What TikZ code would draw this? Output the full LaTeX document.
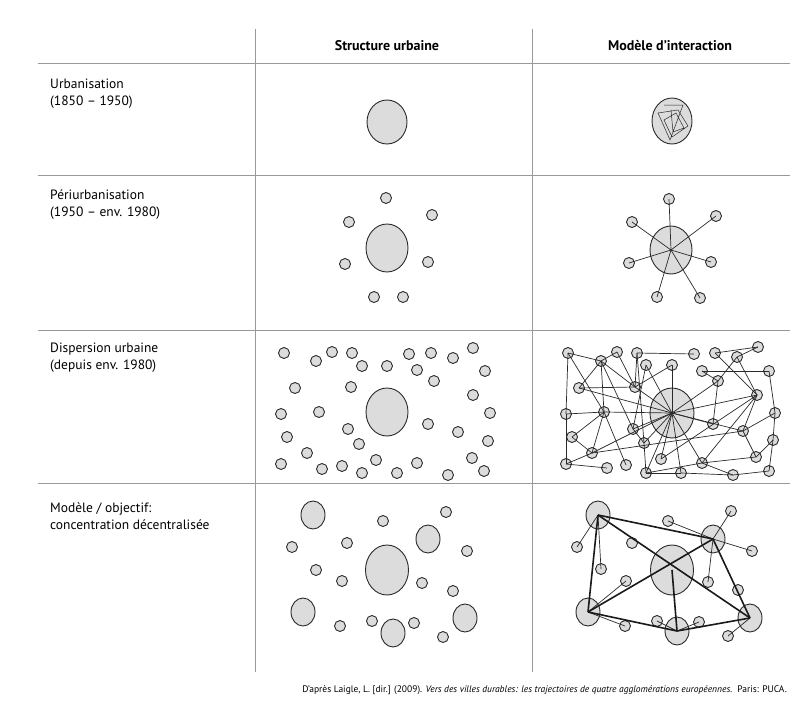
\documentclass[tikz,border=0pt]{standalone}
\usepackage{fontspec}
\setmainfont{PT Sans}
\usetikzlibrary{shapes.geometric}
\definecolor{cfill}{HTML}{DCDCDC}
\definecolor{cline}{HTML}{2A2A2A}
\tikzset{
  sm/.style={circle,draw=cline,fill=cfill,line width=0.9pt,minimum size=11pt,inner sep=0pt},
  md/.style={ellipse,draw=cline,fill=cfill,line width=0.9pt,minimum width=24pt,minimum height=28pt,inner sep=0pt},
  bg/.style={ellipse,draw=cline,fill=cfill,line width=0.9pt,minimum width=42pt,minimum height=48pt,inner sep=0pt},
  grid/.style={draw=gray!80,line width=0.8pt},
  thin/.style={draw=cline,line width=0.7pt},
  thick/.style={draw=black!90,line width=1.6pt},
  lab/.style={align=left,anchor=north west,font=\fontsize{13.5}{17}\selectfont,inner sep=0pt},
  head/.style={font=\bfseries\fontsize{14}{16}\selectfont,inner sep=0pt}
}
\begin{document}
\begin{tikzpicture}[x=1pt,y=-1pt]
\useasboundingbox (0,0) rectangle (800,701);
% grid
\coordinate (v1t) at (255,29); \coordinate (v1b) at (255,672);
\coordinate (v2t) at (532,29); \coordinate (v2b) at (532,672);
\draw[grid] (v1t) -- (v1b); \draw[grid] (v2t) -- (v2b);
\foreach \y/\n in {63/h1,175/h2,330/h3,483/h4}{
  \coordinate (\n l) at (38,\y); \coordinate (\n r) at (790,\y);
  \draw[grid] (\n l) -- (\n r);}
% headers
\node[head] (hs) at (387,46) {Structure urbaine};
\node[head] (hm) at (670,46) {Modèle d'interaction};
\node[lab] (l1) at (50,79) {Urbanisation\\(1850 – 1950)};
\node[lab] (l2) at (50,190) {Périurbanisation\\(1950 – env. 1980)};
\node[lab] (l3) at (50,343) {Dispersion urbaine\\(depuis env. 1980)};
\node[lab] (l4) at (50,503) {Modèle / objectif:\\concentration décentralisée};
\node[anchor=east,inner sep=0pt,font=\fontsize{9.5}{11}\selectfont] (src) at (787,690)
 {D'après Laigle, L. [dir.] (2009). \textit{Vers des villes durables: les trajectoires de quatre agglomérations européennes.}\ \ Paris: PUCA.};
% row 1
\node[bg,minimum width=40pt,minimum height=44pt] (s1c) at (387,122) {};
\node[bg,minimum width=40pt,minimum height=46pt] (m1c) at (672,121) {};
\draw[thin,line width=0.5pt] (664,105) -- (683,105) -- (670,140) -- (658,113) -- (678,110) -- (688,126) -- (672,137) -- (664,120) -- (676,113) -- (684,128) -- (673,132) -- (671,110);
% row 2
\node[bg] (s2c) at (387,248) {};
\foreach \x/\y [count=\i] in {386/198,349/222,432/215,345/264,428/262,374/297,403/297}
  \node[sm] (s2\i) at (\x,\y) {};
\node[bg] (m2c) at (671,250) {};
\foreach \x/\y [count=\i] in {669/199,632/222,716/216,629/263,711/262,657/297,700/298}
  {\node[sm] (m2\i) at (\x,\y) {}; \draw[thin] (m2c.center) -- (m2\i.center);}
% row 3 structure
\node[bg] (s3c) at (387,412) {};
\foreach \x/\y [count=\i] in {284/353,316/361,332/352,352/353,362/366,387/366,409/354,431/353,453/358,473/348,417/370,434/381,485/371,295/388,351/387,473/395,281/414,319/412,490/413,428/424,458/432,348/429,287/437,359/444,488/441,307/453,472/458,281/464,322/469,342/466,376/460,417/463,362/473,397/473,448/475,484/471}
  \node[sm] (s3\i) at (\x,\y) {};
% row 3 interaction
\node[bg,minimum width=44pt,minimum height=50pt] (dc) at (672,413) {};
\foreach \x/\y [count=\i] in {568/353,601/361,617/352,637/353,694/354,715/353,758/347,737/357,646/365,672/365,702/371,769/371,579/388,635/387,718/381,757/395,566/414,604/412,775/413,713/424,633/429,743/431,572/437,644/443,773/440,592/453,661/459,756/457,702/463,566/464,607/468,626/465,646/473,681/473,733/475,769/471}
  \node[sm] (d\i) at (\x,\y) {};
\foreach \j in {10,9,14,13,18,21,24,26,33,34,29,20,15,16,27,22}
  \draw[thin] (dc.center) -- (d\j.center);
\foreach \a/\b in {1/2,2/3,1/17,17/30,1/18,2/13,2/18,2/14,2/21,3/14,4/5,4/14,4/24,9/21,10/14,13/14,17/18,18/23,18/26,18/32,23/26,30/31,21/24,24/33,33/34,34/35,35/36,36/25,25/19,19/12,12/11,6/16,6/7,7/8,8/15,8/16,15/11,15/20,16/22,16/29,16/27,22/19,22/28,26/22,29/28,29/35,33/29,26/30,28/25}
  \draw[thin] (d\a.center) -- (d\b.center);
% row 4 structure
\node[bg,minimum width=43pt,minimum height=50pt] (s4c) at (387,570) {};
\foreach \x/\y [count=\i] in {313/515,428/539,303/612,393/633,465/618}
  \node[md] (s4m\i) at (\x,\y) {};
\foreach \x/\y [count=\i] in {383/521,446/512,292/547,347/543,467/551,316/570,342/581,422/583,453/591,340/626,372/621,414/623,443/637}
  \node[sm] (s4s\i) at (\x,\y) {};
% row 4 interaction
\node[bg,minimum width=43pt,minimum height=50pt] (oc) at (672,570) {};
\foreach \x/\y [count=\i] in {598/515,713/539,588/612,677/631,750/618}
  \node[md] (om\i) at (\x,\y) {};
\foreach \x/\y [count=\i] in {577/547,601/569,632/543,668/521,731/511,752/551,708/582,626/581,738/590,625/626,657/621,699/622,728/636}
  \node[sm] (os\i) at (\x,\y) {};
\foreach \a/\b in {1/1,1/2,3/8,3/10,2/4,2/5,2/6,2/7,4/11,4/12,5/13}
  \draw[thin] (om\a.center) -- (os\b.center);
\foreach \a/\b in {1/2,1/3,1/5,2/3,2/5,3/4,4/5}
  \draw[thick] (om\a.center) -- (om\b.center);
\draw[thick] (oc.center) -- (om4.center);
\end{tikzpicture}
\end{document}
